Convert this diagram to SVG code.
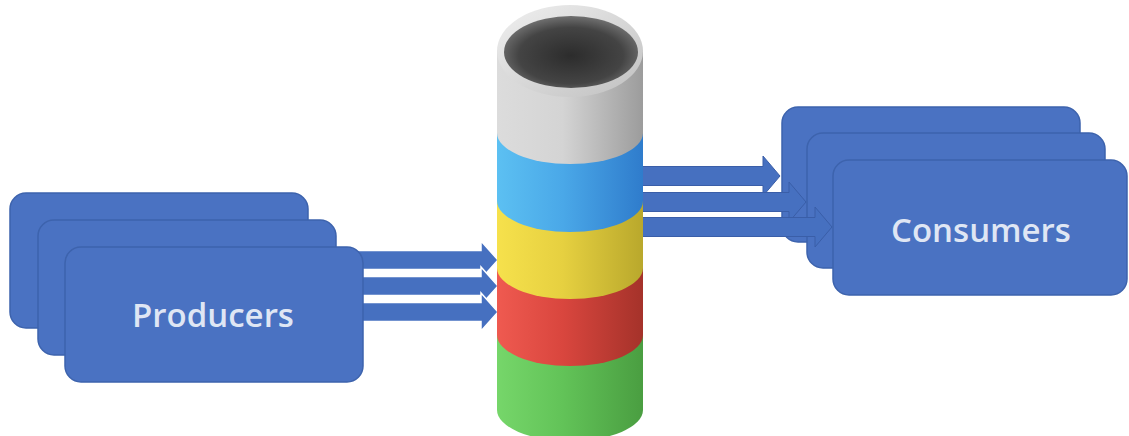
<svg xmlns="http://www.w3.org/2000/svg" width="1129" height="436" viewBox="0 0 1129 436">
  <defs>
    <linearGradient id="gGray" x1="0" y1="0" x2="1" y2="0">
      <stop offset="0" stop-color="#dcdcdc"/>
      <stop offset="0.45" stop-color="#d4d4d4"/>
      <stop offset="1" stop-color="#9c9c9c"/>
    </linearGradient>
    <linearGradient id="gBlue" x1="0" y1="0" x2="1" y2="0">
      <stop offset="0" stop-color="#5cc0f2"/>
      <stop offset="0.45" stop-color="#4aa8e8"/>
      <stop offset="1" stop-color="#2f7ccc"/>
    </linearGradient>
    <linearGradient id="gYellow" x1="0" y1="0" x2="1" y2="0">
      <stop offset="0" stop-color="#f6e14c"/>
      <stop offset="0.45" stop-color="#e6d040"/>
      <stop offset="1" stop-color="#b9a82c"/>
    </linearGradient>
    <linearGradient id="gRed" x1="0" y1="0" x2="1" y2="0">
      <stop offset="0" stop-color="#ef5a50"/>
      <stop offset="0.45" stop-color="#d9463e"/>
      <stop offset="1" stop-color="#a5322a"/>
    </linearGradient>
    <linearGradient id="gGreen" x1="0" y1="0" x2="1" y2="0">
      <stop offset="0" stop-color="#76d66a"/>
      <stop offset="0.45" stop-color="#62c358"/>
      <stop offset="1" stop-color="#4a9e41"/>
    </linearGradient>
    <linearGradient id="gRim" x1="0" y1="0" x2="1" y2="1">
      <stop offset="0" stop-color="#f0f0f0"/>
      <stop offset="1" stop-color="#c0c0c0"/>
    </linearGradient>
    <radialGradient id="gHole" cx="0.5" cy="0.55" r="0.6">
      <stop offset="0" stop-color="#2c2c2c"/>
      <stop offset="0.65" stop-color="#444444"/>
      <stop offset="1" stop-color="#7e7e7e"/>
    </radialGradient>
    <style>
      .box { fill: #4a72c2; stroke: #3d63ad; stroke-width: 1.5; }
      .label { font-family: "Open Sans", "Liberation Sans", sans-serif; font-size: 33px; font-weight: 600; fill: #dfe6f4; text-anchor: middle; }
      .arrow { fill: #4670c0; stroke: #ffffff; stroke-width: 1.5; stroke-linejoin: miter; }
      .arrow.out { stroke: #3a5ea8; stroke-width: 1; }
    </style>
  </defs>

  <rect width="1129" height="436" fill="#ffffff"/>

  <g id="consumers">
    <rect class="box" x="782" y="107" width="298" height="135" rx="16"/>
    <rect class="box" x="807" y="133" width="298" height="135" rx="16"/>
    <rect class="box" x="833" y="160" width="294" height="135" rx="16"/>
    <text class="label" x="981" y="242">Consumers</text>
  </g>

  <g id="connectors">
    <!-- outgoing: tails hidden behind the cylinder, heads over the consumer cards -->
    <path class="arrow out" d="M630 166.5 L763 166.5 L763 156 L780 176 L763 196 L763 185.5 L630 185.5 Z"/>
    <path class="arrow out" d="M630 192.5 L789 192.5 L789 182 L806 202 L789 222 L789 211.5 L630 211.5 Z"/>
    <path class="arrow out" d="M630 217.5 L815 217.5 L815 207 L832 227 L815 247 L815 236.5 L630 236.5 Z"/>
    <!-- incoming: tails hidden behind the front producer card -->
    <path class="arrow" d="M355 250.5 L481 250.5 L481 241 L498 260 L481 279 L481 269.5 L355 269.5 Z"/>
    <path class="arrow" d="M355 276.5 L481 276.5 L481 267 L498 286 L481 305 L481 295.5 L355 295.5 Z"/>
    <path class="arrow" d="M355 302.5 L481 302.5 L481 293 L498 312 L481 331 L481 321.5 L355 321.5 Z"/>
  </g>

  <!-- topic cylinder, stacked segments drawn bottom-up -->
  <g id="topic">
    <path fill="url(#gGreen)" d="M497 335 L497 410 A73 31 0 0 0 643 410 L643 335 Z"/>
    <path fill="url(#gRed)" d="M497 268 L497 335 A73 31 0 0 0 643 335 L643 268 Z"/>
    <path fill="url(#gYellow)" d="M497 201 L497 268 A73 31 0 0 0 643 268 L643 201 Z"/>
    <path fill="url(#gBlue)" d="M497 133 L497 201 A73 31 0 0 0 643 201 L643 133 Z"/>
    <path fill="url(#gGray)" d="M497 50 L497 133 A73 31 0 0 0 643 133 L643 50 Z"/>
    <ellipse cx="570" cy="51" rx="73" ry="46" fill="url(#gRim)"/>
    <ellipse cx="571" cy="52" rx="67" ry="36" fill="url(#gHole)"/>
  </g>

  <g id="producers">
    <rect class="box" x="10" y="193" width="298" height="135" rx="16"/>
    <rect class="box" x="38" y="220" width="298" height="135" rx="16"/>
    <rect class="box" x="65" y="247" width="298" height="135" rx="16"/>
    <text class="label" x="213" y="327">Producers</text>
  </g>
</svg>
